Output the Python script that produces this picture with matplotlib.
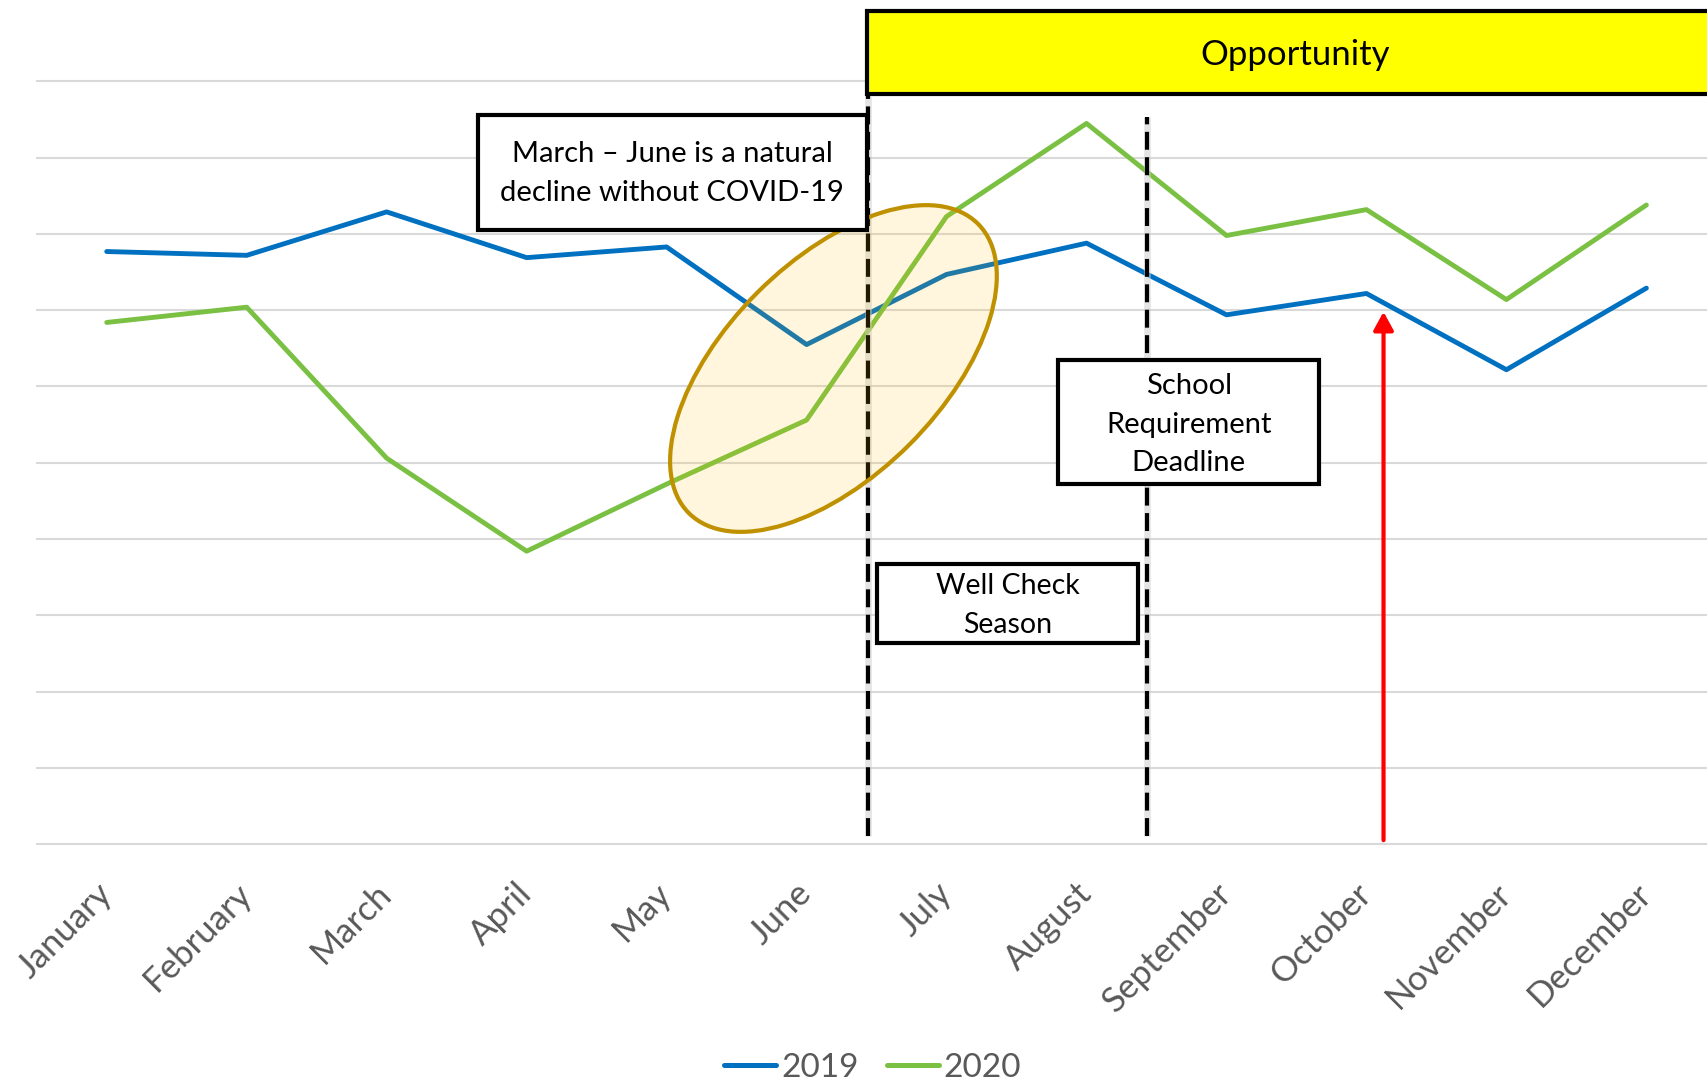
import matplotlib
matplotlib.use("Agg")
import matplotlib.pyplot as plt
from matplotlib.patches import Rectangle, Ellipse
from matplotlib.lines import Line2D
from matplotlib.transforms import ScaledTranslation

plt.rcParams['font.family'] = ['Lato', 'DejaVu Sans']

# ---- data ----
months = ["January", "February", "March", "April", "May", "June",
          "July", "August", "September", "October", "November", "December"]
visits_2019 = [7.77, 7.72, 8.29, 7.69, 7.83, 6.55, 7.47, 7.88, 6.94, 7.22, 6.22, 7.29]
visits_2020 = [6.84, 7.04, 5.06, 3.84, 4.72, 5.56, 8.23, 9.45, 7.98, 8.32, 7.14, 8.38]
series_labels = ["2019", "2020"]

BLUE = "#0070C0"
GREEN = "#7AC143"
GRID = "#D9D9D9"
LABEL_GRAY = "#595959"

fig = plt.figure(figsize=(17.08, 10.81), dpi=100)
ax = fig.add_axes([0.02152, 0.21924, 0.98338, 0.70537])

ax.set_xlim(-0.5, 11.5)
ax.set_ylim(0, 10)
for s in ax.spines.values():
    s.set_visible(False)

ax.set_yticks(range(11))
ax.tick_params(axis="y", length=0, labelleft=False)
ax.grid(axis="y", color=GRID, lw=1.5)
ax.grid(axis="x", visible=False)
ax.set_axisbelow(True)
for gl in ax.get_ygridlines():
    gl.set_clip_on(False)

ax.set_xticks(range(len(months)))
ax.set_xticklabels(months, rotation=45, ha="right", va="center",
                   rotation_mode="anchor", fontsize=25, color=LABEL_GRAY)
ax.tick_params(axis="x", length=0, pad=32)

# ---- series ----
x = list(range(len(months)))
ax.plot(x, visits_2019, color=BLUE, lw=3.5, solid_joinstyle="round",
        solid_capstyle="round", zorder=3)
ax.plot(x, visits_2020, color=GREEN, lw=3.5, solid_joinstyle="round",
        solid_capstyle="round", zorder=3)

# ---- season markers ----
season_lines = [(5.44, 9.81), (7.43, 9.54)]
line_bottom = 0.11
for x0, ytop in season_lines:
    ax.plot([x0, x0], [line_bottom, ytop], color="#cfcfcf", lw=4.8, alpha=0.55,
            solid_capstyle="butt", zorder=3.5, clip_on=False)
    ax.plot([x0, x0], [line_bottom, ytop], color="black", lw=3,
            dashes=(4.3, 1.8), zorder=4, clip_on=False)

# red arrow at October
ax.annotate("", xy=(9.122, 6.98), xytext=(9.122, 0.05),
            arrowprops=dict(arrowstyle="-|>,head_length=1.1,head_width=0.6",
                            color="#FF0000", lw=3, shrinkA=0, shrinkB=0,
                            mutation_scale=10),
            zorder=4)

# highlighted region around June/July
ell = Ellipse((0, 0), 4.09, 2.15, angle=45,
              transform=fig.dpi_scale_trans + ScaledTranslation(5.192, 6.236, ax.transData),
              facecolor=(1.0, 0.753, 0.0, 0.135), edgecolor="#BF9000", lw=3,
              zorder=5, clip_on=False)
ax.add_patch(ell)

# ---- callout boxes ----
def callout(x0, x1, y0, y1, text, face="white", fs=21, ls=1.6, dy=0.0):
    rect = Rectangle((x0, y0), x1 - x0, y1 - y0, facecolor=face,
                     edgecolor="black", lw=3, zorder=6, clip_on=False)
    ax.add_patch(rect)
    ax.text((x0 + x1) / 2, (y0 + y1) / 2 + dy, text, ha="center", va="center",
            fontsize=fs, color="black", linespacing=ls, zorder=7, clip_on=False)

callout(5.432, 11.55, 9.84, 10.92, "Opportunity", face="#FFFF00", fs=25, dy=-0.03)
callout(2.652, 5.430, 8.058, 9.563, "March \u2013 June is a natural\ndecline without COVID-19",
        dy=-0.02)
callout(6.796, 8.664, 4.720, 6.341, "School\nRequirement\nDeadline", dy=-0.03)
callout(5.506, 7.370, 2.636, 3.672, "Well Check\nSeason", fs=20.5, dy=-0.03)

# ---- legend ----
handles = [Line2D([], [], color=BLUE, lw=3.6, solid_capstyle="round"),
           Line2D([], [], color=GREEN, lw=3.6, solid_capstyle="round")]
fig.legend(handles, series_labels, loc="center", bbox_to_anchor=(0.511, 0.012),
           ncol=2, frameon=False, fontsize=24, handlelength=1.55,
           handletextpad=0.15, columnspacing=0.85, labelcolor=LABEL_GRAY)

fig.savefig("out.png", dpi=100)
